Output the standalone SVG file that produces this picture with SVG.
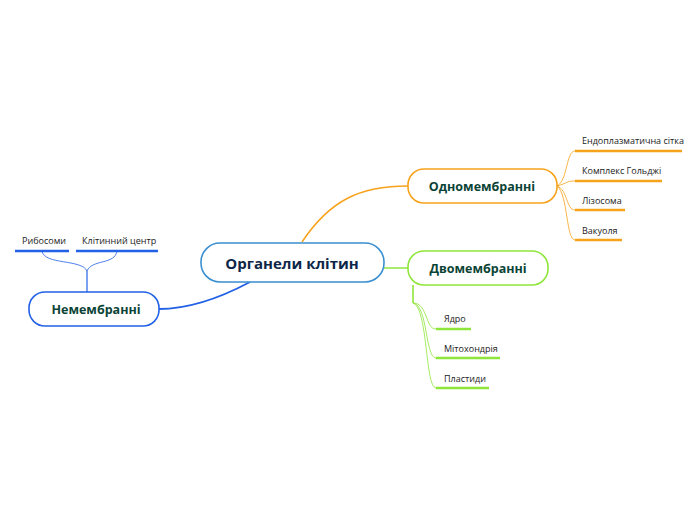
<svg xmlns="http://www.w3.org/2000/svg" width="696" height="520" viewBox="0 0 696 520">
<style>
text{font-family:"Open Sans","Noto Sans","DejaVu Sans",sans-serif}
.node{fill:#fff;stroke-width:1.6}
.t{font-weight:bold;font-size:12.5px;fill:#0b4436;text-anchor:middle}
.s{font-size:9px;fill:#222}
.c{fill:none}
</style>
<g id="connectors">
<path class="c" d="M302,242 C330,200 360,186 408,186" stroke="#f7a21b" stroke-width="1.5"/>
<path class="c" d="M384,268 L408,268" stroke="#8ee63a" stroke-width="1.5"/>
<path class="c" d="M250,282 C220,298 190,309 159,309" stroke="#2261e6" stroke-width="1.8"/>
<g stroke="#f7a21b" stroke-width="0.8" class="c">
<path class="c" d="M540,186 L557,186"/>
<path class="c" d="M557,186 C568,180 566,151 575,151"/>
<path class="c" d="M557,186 C568,183 566,181 575,181"/>
<path class="c" d="M557,186 C568,190 566,210 575,210"/>
<path class="c" d="M557,186 C568,194 566,240 575,240"/>
</g>
<g stroke="#f7a21b" stroke-width="2.5">
<line x1="575" y1="151" x2="682" y2="151"/>
<line x1="575" y1="181" x2="662" y2="181"/>
<line x1="575" y1="210" x2="625" y2="210"/>
<line x1="575" y1="240" x2="622" y2="240"/>
</g>
<g stroke="#8ee63a" class="c">
<path class="c" d="M413,285 L413,303" stroke-width="1.6"/>
<path class="c" d="M413,303 C428,303 425,329 436,329" stroke-width="0.8"/>
<path class="c" d="M413,303 C428,305 425,358 436,358" stroke-width="0.8"/>
<path class="c" d="M413,303 C428,307 425,388 436,388" stroke-width="0.8"/>
</g>
<g stroke="#8ee63a" stroke-width="2.5">
<line x1="436" y1="329" x2="471" y2="329"/>
<line x1="436" y1="358" x2="500" y2="358"/>
<line x1="436" y1="388" x2="489" y2="388"/>
</g>
<g stroke="#2261e6" class="c">
<path class="c" d="M87,292 L87,271" stroke-width="1.2"/>
<path class="c" d="M87,271 C82,259 44,265 42,251" stroke-width="0.8"/>
<path class="c" d="M87,271 C92,259 115,265 117,251" stroke-width="0.8"/>
</g>
<g stroke="#2261e6" stroke-width="2.5">
<line x1="15" y1="251" x2="69" y2="251"/>
<line x1="76" y1="251" x2="158" y2="251"/>
</g>
</g>
<g id="central"><rect class="node" x="201" y="243" width="183" height="39" rx="19" stroke="#3a8fd0"/><text x="292" y="269" class="t" style="font-size:15px;fill:#0d2648">Органели клітин</text></g>
<g id="odno"><rect class="node" x="408" y="169" width="149" height="34" rx="16" stroke="#f7a21b"/><text x="482" y="191" class="t">Одномембранні</text></g>
<g id="dvo"><rect class="node" x="408" y="251" width="140" height="34" rx="16" stroke="#8ee63a"/><text x="478" y="273" class="t">Двомембранні</text></g>
<g id="nemem"><rect class="node" x="29" y="292" width="130" height="34" rx="16" stroke="#2261e6"/><text x="96" y="314" class="t">Немембранні</text></g>
<g id="c1"><text x="582" y="144" class="s">Ендоплазматична сітка</text></g>
<g id="c2"><text x="582" y="174" class="s">Комплекс Гольджі</text></g>
<g id="c3"><text x="582" y="204" class="s">Лізосома</text></g>
<g id="c4"><text x="582" y="234" class="s">Вакуоля</text></g>
<g id="d1"><text x="444" y="322" class="s">Ядро</text></g>
<g id="d2"><text x="444" y="352" class="s">Мітохондрія</text></g>
<g id="d3"><text x="444" y="382" class="s">Пластиди</text></g>
<g id="n1"><text x="22" y="244" class="s">Рибосоми</text></g>
<g id="n2"><text x="82" y="244" class="s">Клітинний центр</text></g>
</svg>
